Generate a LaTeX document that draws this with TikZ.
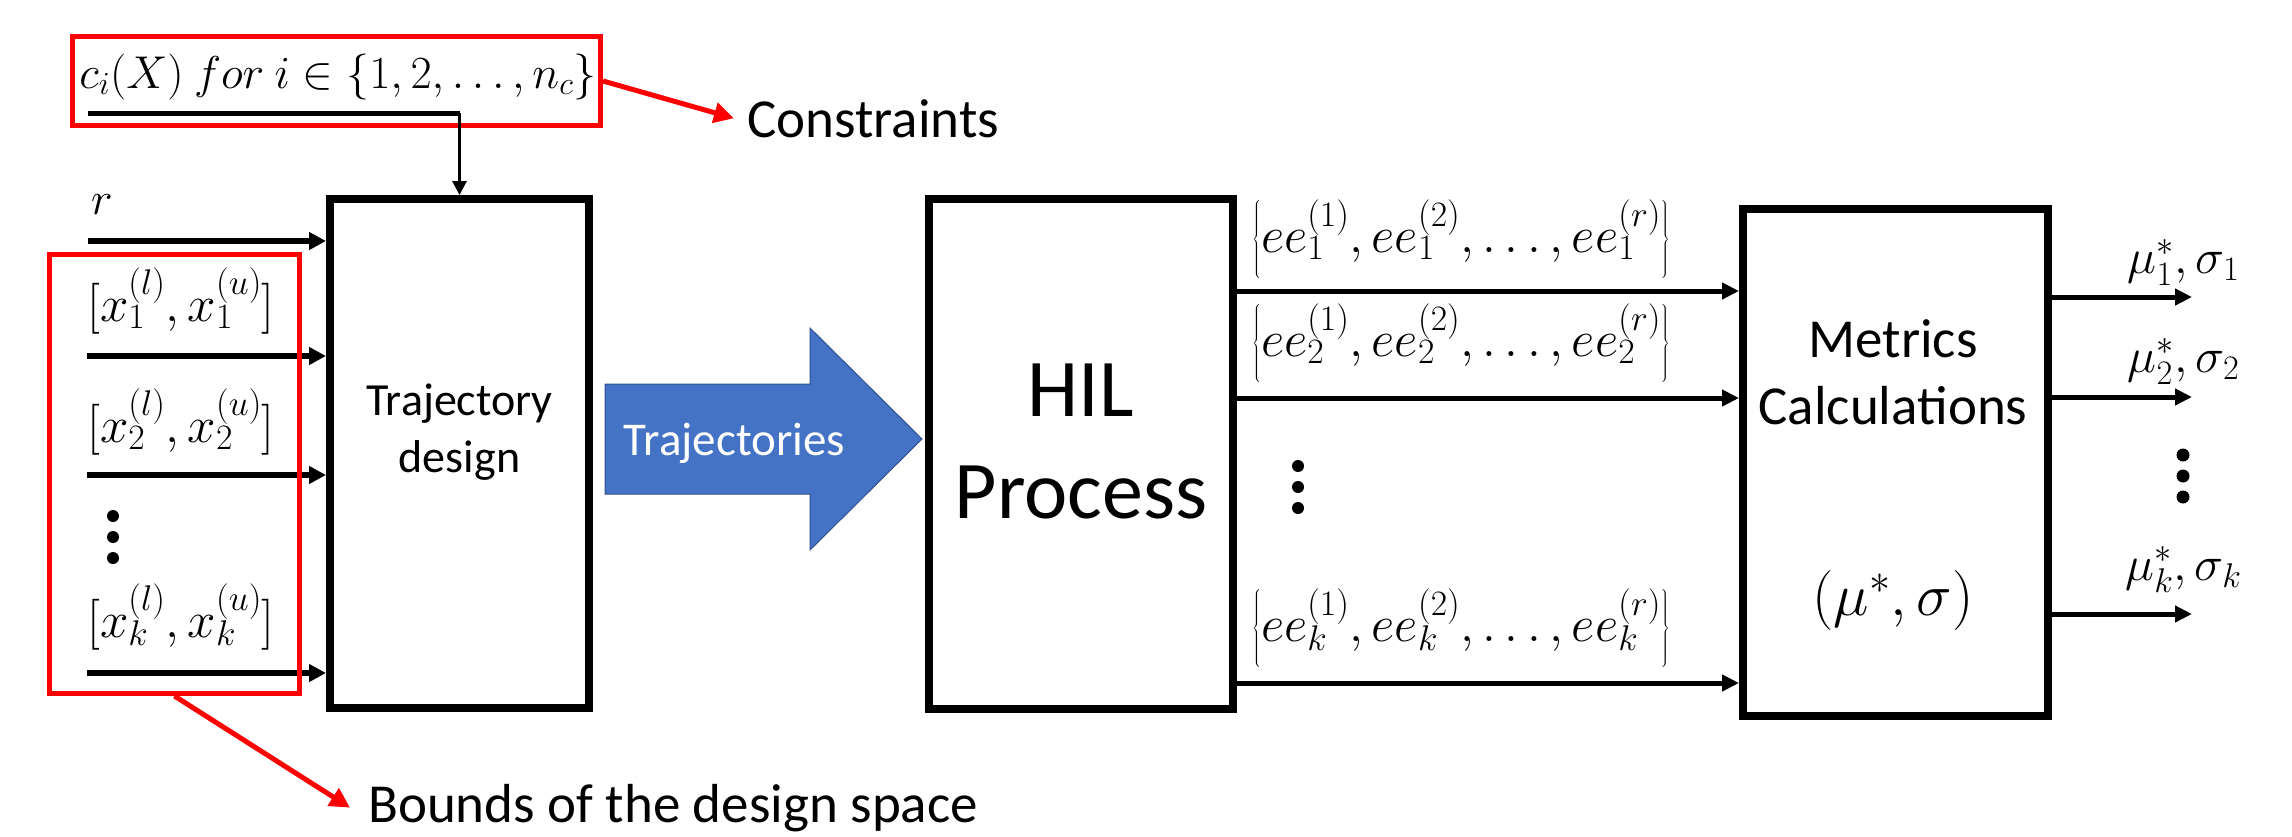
\RequirePackage{fix-cm}
\documentclass[tikz,border=0pt]{standalone}
\usepackage{fontspec}
\setmainfont{Carlito}
\usetikzlibrary{arrows.meta}
\definecolor{pblue}{HTML}{4472C4}
\definecolor{pblueline}{HTML}{2F528F}
\tikzset{
  blk/.style={draw, line width=8pt, inner sep=0pt, fill=white},
  redbox/.style={draw=red, line width=5pt, inner sep=0pt},
  inarr/.style={line width=6pt, -{Triangle[length=17pt,width=17pt]}},
  outarr/.style={line width=5pt, -{Triangle[length=17pt,width=16pt]}},
  thinarr/.style={line width=3pt, -{Triangle[length=14pt,width=14pt]}},
  redarr/.style={draw=red, line width=5pt, -{Triangle[length=20pt,width=20pt]}},
  mlab/.style={inner sep=0pt, font=\fontsize{46}{55}\selectfont},
  xlab/.style={inner sep=0pt, font=\fontsize{51}{60}\selectfont},
  elab/.style={inner sep=0pt, font=\fontsize{51}{60}\selectfont},
  ulab/.style={inner sep=0pt, font=\fontsize{49}{58}\selectfont},
  lbl/.style={inner sep=0pt, font=\fontsize{55}{67}\selectfont},
}
\begin{document}
\begin{tikzpicture}[x=1pt,y=-1pt]
\useasboundingbox (0,0) rectangle (2292,836);
\fill[white] (0,0) rectangle (2292,836);

% main blocks
\node[blk, minimum width=259pt, minimum height=509pt] (traj) at (459.5,453.5) {};
\node[blk, minimum width=304pt, minimum height=510pt] (hil) at (1081,454) {};
\node[blk, minimum width=305pt, minimum height=507pt] (met) at (1895.5,462.5) {};

\node[inner sep=0pt, font=\fontsize{46}{56}\selectfont, anchor=base] (traj1) at (459.5,415) {Trajectory};
\node[inner sep=0pt, font=\fontsize{46}{56}\selectfont, anchor=base] (traj2) at (459.5,472) {design};
\node[inner sep=0pt, font=\fontsize{82}{100}\selectfont, anchor=base] (hil1) at (1081,416) {HIL};
\node[inner sep=0pt, font=\fontsize{82}{100}\selectfont, anchor=base] (hil2) at (1081,518) {Process};
\node[lbl, anchor=base] (met1) at (1893,357) {Metrics};
\node[lbl, anchor=base] (met2) at (1893,424) {Calculations};
\node[inner sep=0pt, font=\fontsize{60}{70}\selectfont] (met3) at (1893,600) {$(\mu^*,\sigma)$};

% constraints
\node[redbox, minimum width=528pt, minimum height=89pt] (cbox) at (336.5,81) {};
\node[mlab, anchor=base] (ctext) at (338,88) {$c_i(X)\ for\ i\in\{1,2,\dots,n_c\}$};
\coordinate (cs) at (88,113);
\draw[line width=5pt] (cs) -- (traj.north |- cs) coordinate (cc);
\draw[thinarr] (cc) -- (traj.north);
\node[lbl, anchor=base west] (clab) at (747,137) {Constraints};
\draw[redarr] (cbox.east) -- ([xshift=-13pt]clab.west);

% inputs
\node[mlab, anchor=base] (lr) at (102,214) {$r$};
\node[xlab, anchor=base] (lx1) at (181,321) {$[x_1^{(l)},x_1^{(u)}]$};
\node[xlab, anchor=base] (lx2) at (181,442) {$[x_2^{(l)},x_2^{(u)}]$};
\node[xlab, anchor=base] (lxk) at (181,637) {$[x_k^{(l)},x_k^{(u)}]$};
\coordinate (ir) at (88,241);
\coordinate (i1) at (87,356);
\coordinate (i2) at (87,475);
\coordinate (ik) at (87,673);
\foreach \c in {ir,i1,i2,ik} \draw[inarr] (\c) -- (\c -| traj.west);
\foreach \yy in {516,537,558} \fill (113,\yy) circle (6pt);

% bounds
\node[redbox, minimum width=250pt, minimum height=439pt] (bbox) at (174.5,474) {};
\node[lbl, anchor=base west] (blab) at (368,822) {Bounds of the design space};
\draw[redarr] (bbox.south) -- ([xshift=-18pt]blab.west);

% blue arrow
\filldraw[fill=pblue, draw=pblueline, line width=1pt]
  (605,384) -- (810,384) -- (810,328) -- (922,439) -- (810,550) -- (810,494) -- (605,494) -- cycle;
\node[inner sep=0pt, font=\fontsize{47}{56}\selectfont, text=white, anchor=base] (trjs) at (734.5,455) {Trajectories};

% HIL outputs
\coordinate (y1) at (0,291);
\coordinate (y2) at (0,398);
\coordinate (yk) at (0,683);
\foreach \c in {y1,y2,yk} \draw[outarr] (hil.east |- \c) -- (met.west |- \c);
\node[elab] (ee1) at (1461,239) {$\left\{ee_1^{(1)},ee_1^{(2)},\dots,ee_1^{(r)}\right\}$};
\node[elab] (ee2) at (1461,343) {$\left\{ee_2^{(1)},ee_2^{(2)},\dots,ee_2^{(r)}\right\}$};
\node[elab] (eek) at (1461,628) {$\left\{ee_k^{(1)},ee_k^{(2)},\dots,ee_k^{(r)}\right\}$};
\foreach \yy in {466,487,508} \fill (1298,\yy) circle (6pt);

% metrics outputs
\coordinate (o1) at (2192,297);
\coordinate (o2) at (2192,397);
\coordinate (ok) at (2192,614);
\foreach \c in {o1,o2,ok} \draw[outarr] (met.east |- \c) -- (\c);
\node[ulab, anchor=base] (mu1) at (2183.5,273) {$\mu_1^*,\sigma_1$};
\node[ulab, anchor=base] (mu2) at (2183.5,372) {$\mu_2^*,\sigma_2$};
\node[ulab, anchor=base] (muk) at (2183.5,580) {$\mu_k^*,\sigma_k$};
\foreach \yy in {455,476,497} \fill (2183,\yy) circle (6.5pt);
\end{tikzpicture}
\end{document}
